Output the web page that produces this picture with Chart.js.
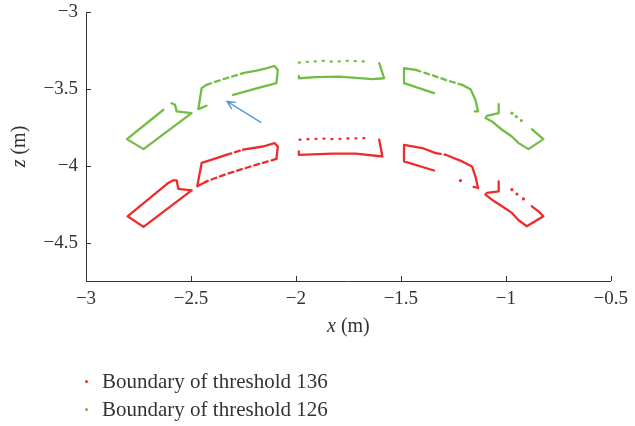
<!DOCTYPE html>
<html>
<head>
<meta charset="utf-8">
<script src="https://cdn.jsdelivr.net/npm/chart.js@4.4.0/dist/chart.umd.min.js"></script>
<style>
    html, body { margin: 0; padding: 0; background: #fff; }
    #wrap { position: relative; width: 635px; height: 426px; }
    #legend { position: absolute; left: 81px; top: 367px; font-family: 'Liberation Serif', serif; font-size: 21px; color: #333; }
    .item { height: 28px; display: flex; align-items: center; }
    .dot { width: 3px; height: 3px; border-radius: 50%; margin: 0 14px 0 4px; }
</style>
</head>
<body>
<div id="wrap">
    <canvas id="chart" width="635" height="426"></canvas>
    <div id="legend"></div>
</div>
<script>
// --- Data (x, z in metres), null = break in the boundary ---
const xTicks = [-3, -2.5, -2, -1.5, -1, -0.5];
const yTicks = [-3, -3.5, -4, -4.5];
const seriesLabels = ['Boundary of threshold 136', 'Boundary of threshold 126'];

// threshold 136 (red)
const redA = [[-2.584,-4.095],[-2.568,-4.095],[-2.560,-4.151],[-2.497,-4.160],[-2.726,-4.398],[-2.802,-4.329],[-2.608,-4.112],[-2.584,-4.095]];
const redB = [[-2.426,-4.102],[-2.470,-4.134],[-2.449,-3.982],[-2.426,-3.972],[-2.331,-3.929],null,[-2.252,-3.896],[-2.157,-3.875],[-2.102,-3.853],[-2.086,-3.875],[-2.093,-3.956]];
const redC = [[-1.603,-3.831],[-1.588,-3.940],[-1.714,-3.922],[-1.825,-3.922],[-1.986,-3.929],[-1.986,-3.907]];
const redD = [[-1.342,-4.031],[-1.485,-3.972],[-1.485,-3.864],[-1.398,-3.885],[-1.334,-3.918],null,[-1.287,-3.929],[-1.208,-3.972],[-1.161,-4.005],[-1.145,-4.069],[-1.132,-4.145],[-1.153,-4.138]];
const redE = [[-1.034,-4.102],[-1.034,-4.167],[-1.090,-4.177],[-1.097,-4.188],[-1.066,-4.221],[-1.018,-4.264],[-0.971,-4.307],[-0.939,-4.355],[-0.900,-4.394],[-0.821,-4.329],[-0.844,-4.297],[-0.876,-4.264]];
const redDashed = [[-2.331,-3.929],[-2.252,-3.896],null,[-2.093,-3.956],[-2.200,-3.998],[-2.339,-4.058],[-2.426,-4.102],null,[-1.334,-3.918],[-1.287,-3.929]];
const redDotted = [[-1.983,-3.831],[-1.935,-3.827],[-1.872,-3.823],[-1.825,-3.827],[-1.754,-3.823],[-1.659,-3.820]];
const redDots = [[-1.216,-4.097],[-0.971,-4.156],[-0.947,-4.184],[-0.916,-4.216]];

// threshold 126 (green)
const greenA = [[-2.592,-3.593],[-2.576,-3.604],[-2.568,-3.647],[-2.497,-3.658],[-2.726,-3.892],[-2.805,-3.827],[-2.631,-3.636]];
const greenB = [[-2.426,-3.610],[-2.465,-3.632],[-2.449,-3.495],[-2.426,-3.474],null,[-2.252,-3.398],[-2.188,-3.381],[-2.141,-3.366],[-2.102,-3.351],[-2.086,-3.377],[-2.093,-3.463],[-2.196,-3.500],[-2.299,-3.539]];
const greenC = [[-1.603,-3.333],[-1.580,-3.431],[-1.635,-3.437],[-1.793,-3.420],[-1.904,-3.424],[-1.986,-3.431],[-1.986,-3.416]];
const greenD = [[-1.342,-3.528],[-1.485,-3.463],[-1.485,-3.366],[-1.429,-3.377],null,[-1.208,-3.474],[-1.168,-3.502],[-1.145,-3.571],[-1.132,-3.647],[-1.148,-3.647]];
const greenE = [[-1.034,-3.599],[-1.034,-3.658],[-1.090,-3.675],[-1.097,-3.690],[-1.066,-3.712],[-1.018,-3.766],[-0.971,-3.810],[-0.939,-3.853],[-0.892,-3.892],[-0.821,-3.827],[-0.876,-3.762]];
const greenDashed = [[-2.426,-3.474],[-2.394,-3.459],[-2.331,-3.431],[-2.252,-3.398],null,[-1.429,-3.377],[-1.382,-3.398],[-1.351,-3.411],[-1.287,-3.442],[-1.208,-3.474]];
const greenDotted = [[-1.986,-3.329],[-1.935,-3.323],[-1.872,-3.318],[-1.825,-3.323],[-1.754,-3.318],[-1.659,-3.323]];
const greenDots = [[-0.971,-3.658],[-0.950,-3.680],[-0.926,-3.706]];

// arrow (tail -> tip)
const arrowTail = [-2.165, -3.719];
const arrowTip = [-2.328, -3.582];

const RED = '#ee2c2c';
const GREEN = '#72bd45';
const BLUE = '#5b9bd5';
const TEXT = '#333333';
const FONT = "'Liberation Serif', 'DejaVu Serif', serif";

// --- Helpers ---
function toPoints(list) {
    return list.map(p => p ? { x: p[0], y: p[1] } : { x: null, y: null });
}
function joinPieces(...pieces) {
    let out = [];
    pieces.forEach((p, i) => { if (i) out.push(null); out = out.concat(p); });
    return toPoints(out);
}
function lineSet(data, color, dash) {
    return {
        data: data, showLine: true, borderColor: color, backgroundColor: color,
        borderWidth: 2.3, pointRadius: 0, spanGaps: false, borderDash: dash || [],
        borderCapStyle: 'round', borderJoinStyle: 'round'
    };
}
function dotSet(data, color) {
    return { data: data, showLine: false, backgroundColor: color, borderWidth: 0, pointRadius: 1.6 };
}
const minus = v => String(v).replace('-', '\u2212');

// --- Inner ticks, axis titles, arrow ---
const extras = {
    id: 'extras',
    afterDraw(chart) {
        const ctx = chart.ctx, a = chart.chartArea;
        const xs = chart.scales.x, ys = chart.scales.y;
        ctx.save();
        ctx.strokeStyle = TEXT;
        ctx.lineWidth = 1;
        ctx.beginPath();
        xTicks.forEach(v => {
            const px = Math.round(xs.getPixelForValue(v)) + 0.5;
            ctx.moveTo(px, a.bottom); ctx.lineTo(px, a.bottom - 5);
        });
        yTicks.forEach(v => {
            const py = Math.round(ys.getPixelForValue(v)) + 0.5;
            ctx.moveTo(a.left, py); ctx.lineTo(a.left + 5, py);
        });
        ctx.stroke();

        // arrow
        const tx = xs.getPixelForValue(arrowTail[0]), ty = ys.getPixelForValue(arrowTail[1]);
        const hx = xs.getPixelForValue(arrowTip[0]), hy = ys.getPixelForValue(arrowTip[1]);
        const ang = Math.atan2(hy - ty, hx - tx);
        ctx.strokeStyle = BLUE;
        ctx.lineWidth = 1.5;
        ctx.beginPath();
        ctx.moveTo(tx, ty); ctx.lineTo(hx, hy);
        ctx.moveTo(hx - 9 * Math.cos(ang - 0.45), hy - 9 * Math.sin(ang - 0.45));
        ctx.lineTo(hx, hy);
        ctx.lineTo(hx - 9 * Math.cos(ang + 0.45), hy - 9 * Math.sin(ang + 0.45));
        ctx.stroke();

        // axis titles: italic variable + " (m)"
        function title(cx, cy, rot, letter) {
            ctx.save();
            ctx.translate(cx, cy);
            ctx.rotate(rot);
            ctx.fillStyle = TEXT;
            ctx.textBaseline = 'middle';
            ctx.font = 'italic 20px ' + FONT;
            const w1 = ctx.measureText(letter).width;
            ctx.font = '20px ' + FONT;
            const rest = ' (m)';
            const w2 = ctx.measureText(rest).width;
            const start = -(w1 + w2) / 2;
            ctx.font = 'italic 20px ' + FONT;
            ctx.fillText(letter, start, 0);
            ctx.font = '20px ' + FONT;
            ctx.fillText(rest, start + w1, 0);
            ctx.restore();
        }
        title((a.left + a.right) / 2, 327, 0, 'x');
        title(20, (a.top + a.bottom) / 2, -Math.PI / 2, 'z');
        ctx.restore();
    }
};

// --- Chart ---
new Chart(document.getElementById('chart'), {
    type: 'scatter',
    data: {
        datasets: [
            lineSet(joinPieces(redA, redB, redC, redD, redE), RED),
            lineSet(toPoints(redDashed), RED, [5, 4]),
            lineSet(toPoints(redDotted), RED, [1, 7]),
            dotSet(toPoints(redDots), RED),
            lineSet(joinPieces(greenA, greenB, greenC, greenD, greenE), GREEN),
            lineSet(toPoints(greenDashed), GREEN, [5, 4]),
            lineSet(toPoints(greenDotted), GREEN, [1, 7]),
            dotSet(toPoints(greenDots), GREEN)
        ]
    },
    options: {
        responsive: false,
        animation: false,
        layout: { padding: { left: 0, right: 7, top: 12, bottom: 105 } },
        plugins: { legend: { display: false }, tooltip: { enabled: false } },
        scales: {
            x: {
                type: 'linear', min: -3, max: -0.5,
                afterBuildTicks: s => { s.ticks = xTicks.map(v => ({ value: v })); },
                afterFit: s => { s.height = 40; },
                grid: { display: true, drawOnChartArea: false, drawTicks: false },
                border: { display: true, color: TEXT, width: 1 },
                ticks: { padding: 7, color: TEXT, font: { family: FONT, size: 19 }, callback: minus, maxRotation: 0 }
            },
            y: {
                type: 'linear', min: -4.75, max: -3,
                afterBuildTicks: s => { s.ticks = yTicks.map(v => ({ value: v })); },
                afterFit: s => { s.width = 86; s.paddingTop = 0; s.paddingBottom = 0; },
                grid: { display: true, drawOnChartArea: false, drawTicks: false },
                border: { display: true, color: TEXT, width: 1 },
                ticks: { padding: 8, color: TEXT, font: { family: FONT, size: 19 }, callback: minus }
            }
        }
    },
    plugins: [extras]
});

// --- Legend ---
const legend = document.getElementById('legend');
[RED, GREEN].forEach((c, i) => {
    const row = document.createElement('div');
    row.className = 'item';
    row.innerHTML = `<span class="dot" style="background:${c}"></span><span>${seriesLabels[i]}</span>`;
    legend.appendChild(row);
});
</script>
</body>
</html>
